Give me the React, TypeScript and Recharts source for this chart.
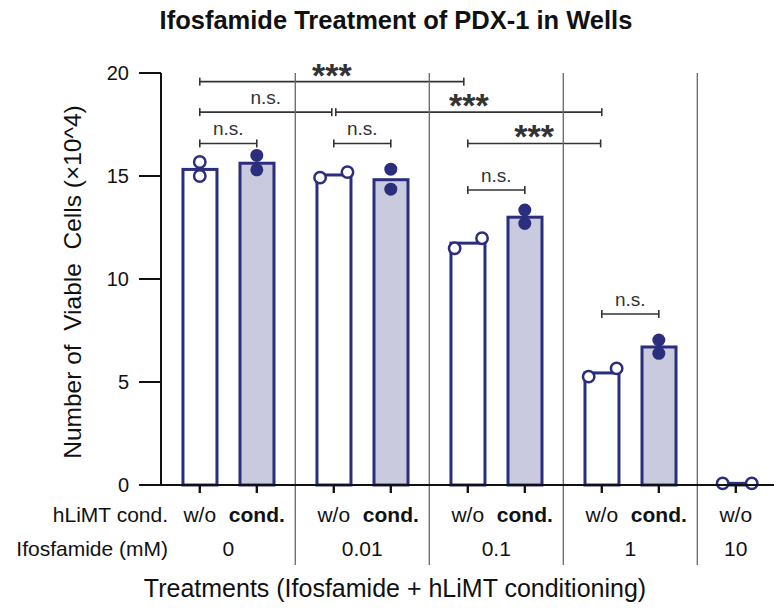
import { useCallback, useLayoutEffect, useState } from "react";
import { ComposedChart, Bar, XAxis, YAxis, ReferenceLine, ReferenceDot, ReferenceArea, Cell } from "recharts";

// bar order: w/o & cond. for each ifosfamide dose, only w/o at 10 mM
const categories = ["w/o", "cond.", "w/o", "cond.", "w/o", "cond.", "w/o", "cond.", "w/o"];
const positions = [0, 1, 2.35, 3.35, 4.7, 5.7, 7.05, 8.05, 9.4];
const means = [15.32, 15.62, 15.05, 14.82, 11.74, 13.0, 5.44, 6.7, 0.08];
const conditioned = [false, true, false, true, false, true, false, true, false];

// replicate wells (x10^4 cells)
const woPoints = [
  { pos: 0, val: 15.68 },
  { pos: 0, val: 15.0 },
  { pos: 2.11, val: 14.92 },
  { pos: 2.59, val: 15.19 },
  { pos: 4.47, val: 11.49 },
  { pos: 4.95, val: 11.98 },
  { pos: 6.82, val: 5.26 },
  { pos: 7.31, val: 5.66 },
  { pos: 9.17, val: 0.08 },
  { pos: 9.68, val: 0.08 },
];
const condPoints = [
  { pos: 1, val: 16.0 },
  { pos: 1, val: 15.3 },
  { pos: 3.35, val: 15.33 },
  { pos: 3.35, val: 14.36 },
  { pos: 5.7, val: 13.35 },
  { pos: 5.7, val: 12.7 },
  { pos: 8.05, val: 7.04 },
  { pos: 8.05, val: 6.39 },
];

const doseTicks = [0.5, 2.85, 5.2, 7.55, 9.4];
const doseLabels = ["0", "0.01", "0.1", "1", "10"];
const dividers = [1.675, 4.025, 6.375, 8.725];
const yTicks = [0, 5, 10, 15, 20];
const X_DOMAIN = [-0.68, 10.07];

const brackets = [
  { x1: 0, x2: 4.63, y: 19.58, label: "***" },
  { x1: 0, x2: 2.315, y: 18.1, label: "n.s." },
  { x1: 2.385, x2: 7.05, y: 18.1, label: "***" },
  { x1: 0, x2: 1, y: 16.58, label: "n.s." },
  { x1: 2.35, x2: 3.35, y: 16.58, label: "n.s." },
  { x1: 4.7, x2: 7.03, y: 16.58, label: "***" },
  { x1: 4.7, x2: 5.7, y: 14.32, label: "n.s." },
  { x1: 7.05, x2: 8.05, y: 8.3, label: "n.s." },
];

const NAVY = "#2b2e7c";
const FONT = "'Liberation Sans', Arial, sans-serif";
const BAR_W = 34;

const barData = positions.map((pos, i) => ({ pos, mean: means[i] }));
// domain ends are ticks too, so the axis line can be drawn from the scale
const xTicks = Array.from(new Set([X_DOMAIN[0], ...positions, ...doseTicks, X_DOMAIN[1]])).sort((a, b) => a - b);

// one axis carries both label rows: bar labels (with a tick mark) and dose labels
function XTick(props: any) {
  const { x, y, payload, report } = props;
  const v = payload.value;
  useLayoutEffect(() => {
    if (report) report(v, x, y);
  }, [v, x, y, report]);
  const barIdx = positions.indexOf(v);
  const doseIdx = doseTicks.indexOf(v);
  const label = barIdx >= 0 ? categories[barIdx] : "";
  return (
    <g>
      {barIdx >= 0 && <line x1={x} y1={y - 10} x2={x} y2={y - 2} stroke="#111" strokeWidth={2} />}
      {barIdx >= 0 && (
        <text
          x={x}
          y={y + 27}
          textAnchor="middle"
          fontSize={21}
          fontFamily={FONT}
          fontWeight={label === "cond." ? "bold" : "normal"}
          fill="#111"
        >
          {label}
        </text>
      )}
      {doseIdx >= 0 && (
        <text x={x} y={y + 61} textAnchor="middle" fontSize={21} fontFamily={FONT} fill="#111">
          {doseLabels[doseIdx]}
        </text>
      )}
    </g>
  );
}

// keep the bar centred on its slot but with a fixed width
const BarShape = (p: any) => {
  const cx = p.x + p.width / 2;
  return (
    <rect
      x={cx - BAR_W / 2}
      y={p.y}
      width={BAR_W}
      height={Math.max(p.height, 0)}
      fill={p.fill}
      stroke={NAVY}
      strokeWidth={3}
    />
  );
};

const dividerShape = (p: any) => {
  const top = Math.min(p.y1, p.y2);
  const bottom = Math.max(p.y1, p.y2) + 80; // runs down through the label rows
  return <line x1={p.x1} y1={top} x2={p.x2} y2={bottom} stroke="#666" strokeWidth={1.3} />;
};

function bracketShape(text: string) {
  return (p: any) => {
    const xa = p.x;
    const xb = p.x + p.width;
    const y = p.y;
    const stars = text === "***";
    return (
      <g>
        <line x1={xa} y1={y} x2={xb} y2={y} stroke="#333" strokeWidth={1.6} />
        <line x1={xa} y1={y - 4} x2={xa} y2={y + 4} stroke="#333" strokeWidth={1.6} />
        <line x1={xb} y1={y - 4} x2={xb} y2={y + 4} stroke="#333" strokeWidth={1.6} />
        <text
          x={(xa + xb) / 2}
          y={stars ? y + 5 : y - 8.5}
          textAnchor="middle"
          fontSize={stars ? 34 : 19}
          fontWeight={stars ? "bold" : "normal"}
          fontFamily={FONT}
          fill="#333"
        >
          {text}
        </text>
      </g>
    );
  };
}

export default function App() {
  const [tickPos, setTickPos] = useState<Record<string, { x: number; y: number }>>({});
  const report = useCallback((v: number, x: number, y: number) => {
    setTickPos((prev) => {
      const k = String(v);
      const old = prev[k];
      if (old && old.x === x && old.y === y) return prev;
      return { ...prev, [k]: { x, y } };
    });
  }, []);

  const left = tickPos[String(X_DOMAIN[0])];
  const right = tickPos[String(X_DOMAIN[1])];
  const axisY = left ? left.y - 10 : null;

  return (
    <div style={{ position: "absolute", left: 0, top: 0, width: 774, height: 608, background: "#fff" }}>
      <ComposedChart
        width={774}
        height={608}
        data={barData}
        margin={{ top: 73, right: 0, left: 0, bottom: 33 }}
      >
        <XAxis
          xAxisId="cat"
          type="number"
          dataKey="pos"
          domain={X_DOMAIN}
          allowDataOverflow
          ticks={xTicks}
          interval={0}
          height={90}
          tickSize={8}
          stroke="#111"
          strokeWidth={2}
          tickLine={false}
          tick={<XTick report={report} />}
        />
        <YAxis
          type="number"
          domain={[0, 20]}
          ticks={yTicks}
          width={161}
          tickSize={22}
          tickMargin={10}
          axisLine={{ stroke: "#111", strokeWidth: 2 }}
          tickLine={{ stroke: "#111", strokeWidth: 2 }}
          tick={{ fontSize: 20, fill: "#111", fontFamily: FONT }}
        />
        {dividers.map((d) => (
          <ReferenceLine key={d} xAxisId="cat" x={d} shape={dividerShape} ifOverflow="visible" />
        ))}
        <Bar xAxisId="cat" dataKey="mean" shape={BarShape} isAnimationActive={false}>
          {barData.map((_, i) => (
            <Cell key={i} fill={conditioned[i] ? "#c9cadd" : "#ffffff"} />
          ))}
        </Bar>
        {woPoints.map((p, i) => (
          <ReferenceDot
            key={`wo${i}`}
            xAxisId="cat"
            x={p.pos}
            y={p.val}
            r={5.7}
            fill="#fff"
            stroke={NAVY}
            strokeWidth={2.5}
            ifOverflow="visible"
          />
        ))}
        {condPoints.map((p, i) => (
          <ReferenceDot
            key={`c${i}`}
            xAxisId="cat"
            x={p.pos}
            y={p.val}
            r={6.5}
            fill={NAVY}
            stroke="none"
            ifOverflow="visible"
          />
        ))}
        {brackets.map((b, i) => (
          <ReferenceArea
            key={`b${i}`}
            xAxisId="cat"
            x1={b.x1}
            x2={b.x2}
            y1={b.y}
            y2={b.y}
            shape={bracketShape(b.label)}
            ifOverflow="visible"
          />
        ))}
      </ComposedChart>
      <svg
        width={774}
        height={608}
        style={{ position: "absolute", left: 0, top: 0, pointerEvents: "none" }}
        fontFamily={FONT}
      >
        {axisY !== null && left && right && (
          <line x1={left.x - 1} y1={axisY} x2={right.x} y2={axisY} stroke="#111" strokeWidth={2} />
        )}
        {axisY !== null &&
          positions.map((v) => {
            const t = tickPos[String(v)];
            return t ? <line key={v} x1={t.x} y1={axisY} x2={t.x} y2={axisY + 8} stroke="#111" strokeWidth={2} /> : null;
          })}
        <text x={396} y={29} textAnchor="middle" fontSize={25.5} fontWeight="bold" fill="#111">
          Ifosfamide Treatment of PDX-1 in Wells
        </text>
        <text x={168} y={522} textAnchor="end" fontSize={21} fill="#111">
          hLiMT cond.
        </text>
        <text x={168} y={556} textAnchor="end" fontSize={21} fill="#111">
          Ifosfamide (mM)
        </text>
        <text x={395} y={597} textAnchor="middle" fontSize={25} fill="#111">
          Treatments (Ifosfamide + hLiMT conditioning)
        </text>
        <text
          x={81}
          y={282}
          textAnchor="middle"
          fontSize={24.5}
          fill="#111"
          transform="rotate(-90 81 282)"
          style={{ whiteSpace: "pre" }}
        >
          {"Number of  Viable  Cells (×10^4)"}
        </text>
      </svg>
    </div>
  );
}
